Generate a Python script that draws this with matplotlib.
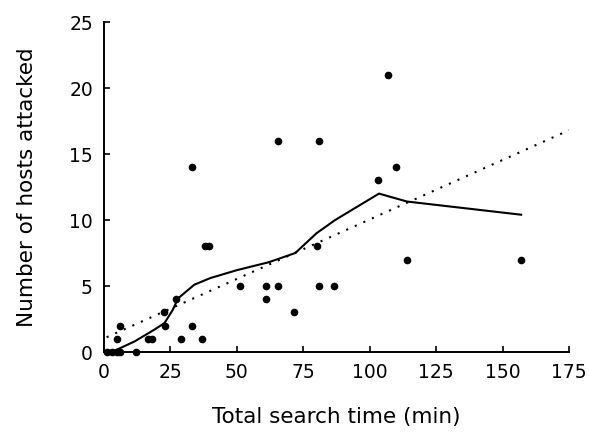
import matplotlib
matplotlib.use("Agg")
import matplotlib.pyplot as plt

# Observed data (total search time, hosts attacked)
search_time = [1, 3, 5, 6, 12, 6, 5, 16.5, 18, 22.5, 23, 27, 29, 33, 37, 33,
               38, 39.5, 51, 61, 61, 65.5, 65.5, 71.5, 80, 81, 81, 86.5,
               103, 107, 110, 114, 157]
hosts = [0, 0, 0, 0, 0, 2, 1, 1, 1, 3, 2, 4, 1, 2, 1, 14,
         8, 8, 5, 5, 4, 5, 16, 3, 8, 5, 16, 5,
         13, 21, 14, 7, 7]

# Smoothed curve (solid)
smooth_x = [4, 11.5, 19, 22.8, 25.9, 27.8, 34, 40, 50, 62, 72, 80, 87, 103.5, 114, 157]
smooth_y = [0.1, 0.8, 1.7, 2.2, 3.2, 4.05, 5.1, 5.6, 6.2, 6.8, 7.5, 9.0, 10.0, 12.0, 11.4, 10.4]

# Linear regression (dotted)
reg_x = [1, 175]
reg_y = [1.12, 16.8]

x_ticks = [0, 25, 50, 75, 100, 125, 150, 175]
y_ticks = [0, 5, 10, 15, 20, 25]

fig = plt.figure(figsize=(5.89, 4.32), dpi=100)
ax = fig.add_axes([104 / 589, 80 / 432, 465 / 589, 330 / 432])

ax.plot(reg_x, reg_y, color="black", lw=1.5, linestyle=(0, (1, 3.5)))
ax.plot(smooth_x, smooth_y, color="black", lw=1.5, solid_joinstyle="round")
ax.plot(search_time, hosts, linestyle="none", marker="o", markersize=4.5,
        color="black", clip_on=False, zorder=5)

ax.set_xlim(0, 175)
ax.set_ylim(0, 25)
ax.set_xticks(x_ticks)
ax.set_yticks(y_ticks)
for s in ["top", "right"]:
    ax.spines[s].set_visible(False)
for s in ["left", "bottom"]:
    ax.spines[s].set_linewidth(1.4)
ax.tick_params(direction="in", length=4, width=1.2, labelsize=13.5, pad=8)

ax.set_xlabel("Total search time (min)", fontsize=15.5)
ax.set_ylabel("Number of hosts attacked", fontsize=15.5)
ax.xaxis.set_label_coords(0.5, (352 - 407) / 330)
ax.yaxis.set_label_coords((37 - 104) / 465, 0.5)

fig.savefig("out.png", dpi=100)
